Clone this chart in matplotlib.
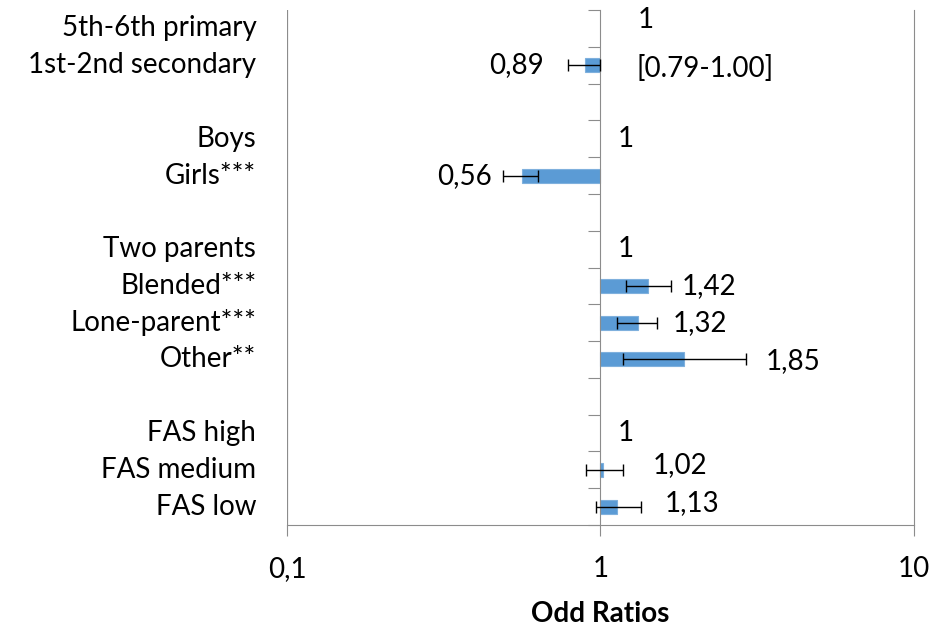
import matplotlib
matplotlib.use("Agg")
from matplotlib import pyplot as plt
from matplotlib import transforms as mtransforms
import numpy as np

# rows from top to bottom, "" = spacer row
categories = ["5th-6th primary", "1st-2nd secondary", "",
              "Boys", "Girls***", "",
              "Two parents", "Blended***", "Lone-parent***", "Other**", "",
              "FAS high", "FAS medium", "FAS low"]
odds = [1, 0.89, None,
        1, 0.56, None,
        1, 1.42, 1.32, 1.85, None,
        1, 1.02, 1.13]
ci_low = [None, 0.79, None,
          None, 0.49, None,
          None, 1.21, 1.13, 1.18, None,
          None, 0.90, 0.97]
ci_high = [None, 1.00, None,
           None, 0.63, None,
           None, 1.68, 1.52, 2.92, None,
           None, 1.18, 1.35]
ci_note = "[0.79-1.00]"
x_ticks = [0.1, 1, 10]
x_ticklabels = ["0,1", "1", "10"]

bar_color = "#5B9BD5"
grey = "#8C8C8C"
fs = 20

plt.rcParams["font.family"] = ["Lato", "DejaVu Sans"]

fig = plt.figure(figsize=(9.4, 6.28), dpi=100)
ax = fig.add_axes([0.3053, 0.164, 0.667, 0.820])

n = len(categories)
ypos = np.arange(n)

for i in range(n):
    v = odds[i]
    if v is None or v == 1:
        continue
    ax.barh(ypos[i], v - 1, left=1, height=0.38, color=bar_color,
            edgecolor="#7FB0DD", linewidth=0.8, zorder=2)
    ax.errorbar(v, ypos[i], xerr=[[v - ci_low[i]], [ci_high[i] - v]],
                fmt="none", ecolor="black", elinewidth=1.0, capsize=4.5,
                capthick=1.0, zorder=3)

# value labels
for i in range(n):
    v = odds[i]
    if v is None:
        continue
    txt = ("%g" % v).replace(".", ",")
    if v == 1:
        dx = 37 if i == 0 else 17
        dy = 8 if i == 0 else 0
        ax.annotate(txt, xy=(1, ypos[i]), xytext=(dx, dy),
                    textcoords="offset pixels", ha="left", va="center",
                    fontsize=fs)
    elif v < 1:
        dx = -25 if i == 1 else -11
        ax.annotate(txt, xy=(ci_low[i], ypos[i]), xytext=(dx, 0),
                    textcoords="offset pixels", ha="right", va="center",
                    fontsize=fs)
    else:
        dy = {9: -2, 12: 5, 13: 4}.get(i, 0)
        dx = {7: 11, 8: 15, 9: 19, 12: 30, 13: 23}.get(i, 12)
        ax.annotate(txt, xy=(ci_high[i], ypos[i]), xytext=(dx, dy),
                    textcoords="offset pixels", ha="left", va="center",
                    fontsize=fs)

ax.annotate(ci_note, xy=(1, ypos[1]), xytext=(36, -3),
            textcoords="offset pixels", ha="left", va="center", fontsize=fs)

# category labels on the left of the plot area
trans = mtransforms.blended_transform_factory(ax.transAxes, ax.transData)
for i, lab in enumerate(categories):
    if lab:
        ax.text(-0.049, ypos[i], lab, transform=trans, ha="right",
                va="center", fontsize=fs)

ax.set_xscale("log")
ax.set_xlim(0.1, 10)
ax.set_ylim(n - 0.5, -0.5)

ax.set_xticks(x_ticks)
ax.set_xticklabels(x_ticklabels, fontsize=fs)
ax.xaxis.set_minor_locator(matplotlib.ticker.NullLocator())
ax.tick_params(axis="x", which="major", length=8, color=grey, pad=14)

ax.spines["left"].set_position(("data", 1))
for s in ["left", "bottom", "right"]:
    ax.spines[s].set_color(grey)
ax.spines["top"].set_visible(False)
ax.axvline(0.1, color=grey, linewidth=1.6, zorder=1)

ax.set_yticks(np.arange(-0.5, n, 1.0))
ax.set_yticklabels([])
ax.tick_params(axis="y", which="major", length=9, color=grey, direction="out")

ax.set_xlabel("Odd Ratios", fontsize=fs, fontweight="bold", labelpad=14)

fig.savefig("out.png", dpi=100)
